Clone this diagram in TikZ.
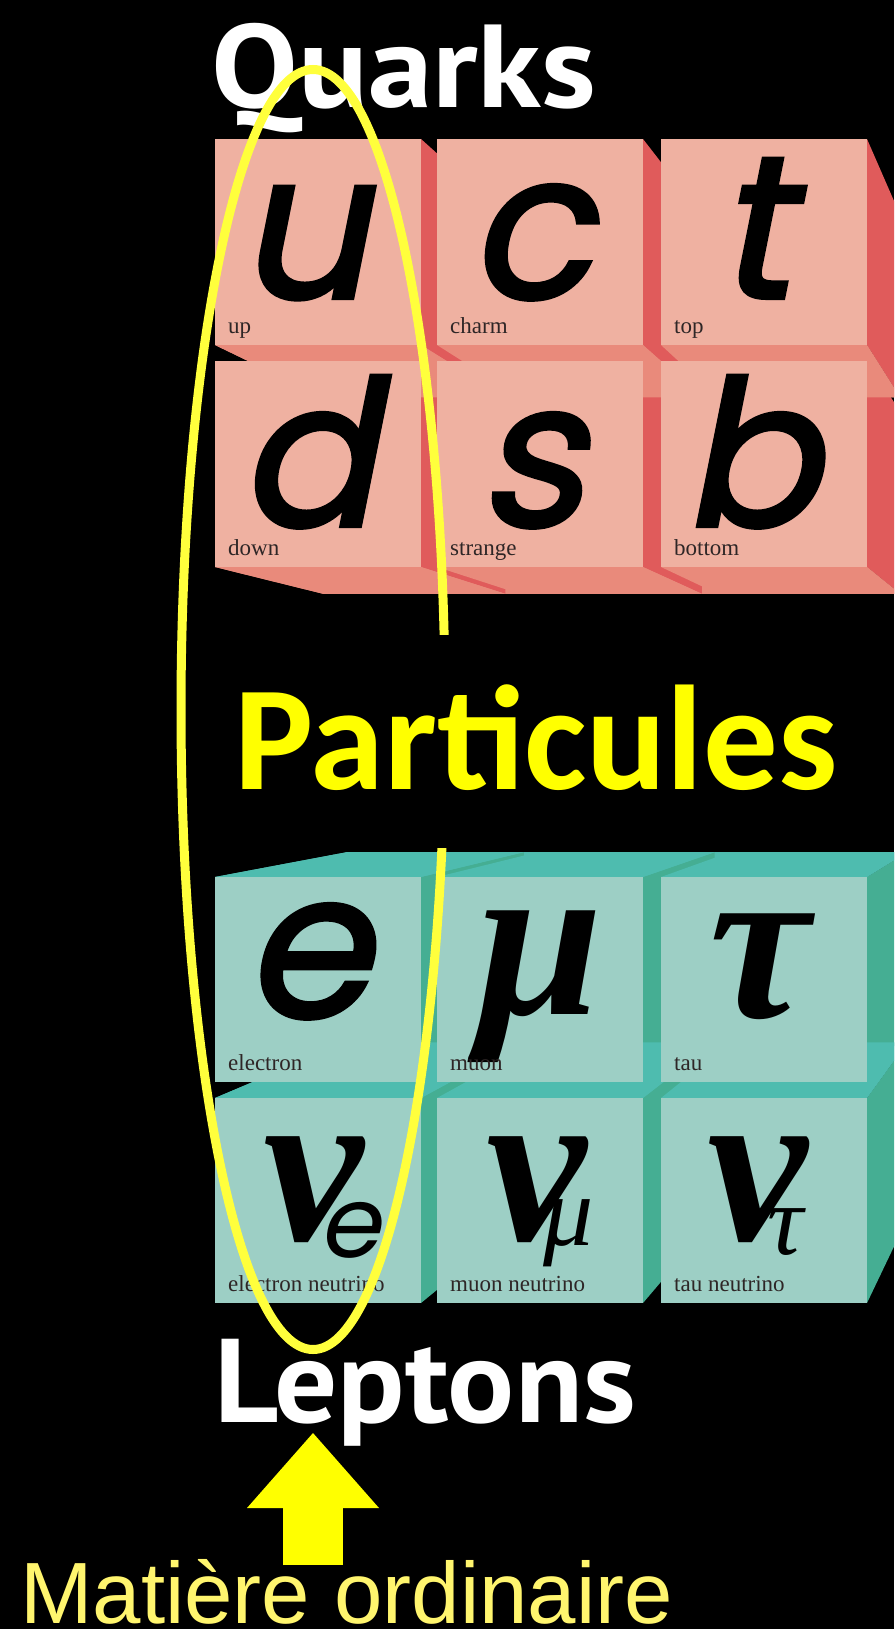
\documentclass[tikz,border=0pt]{standalone}
\usepackage{fontspec}
\usetikzlibrary{calc,arrows.meta,positioning}
\newfontfamily\headfont{PT Sans}[FakeStretch=1.05]
\newfontfamily\quarkhead{PT Sans}[FakeStretch=1.1]
\newfontfamily\flavfont{Poppins}[FakeSlant=0.2,FakeBold=2]
\newfontfamily\subfont{Poppins}[FakeSlant=0.2]
\newfontfamily\greekfont{Liberation Serif}
\newfontfamily\namefont{Liberation Serif}
\newfontfamily\callfont{Carlito}
\newfontfamily\notefont{Liberation Sans}
\newcommand{\fsz}[1]{\fontsize{#1}{#1}\selectfont}
\definecolor{quarkface}{HTML}{EFB1A1}
\definecolor{quarkside}{HTML}{E05B5B}
\definecolor{quarkbase}{HTML}{E98A7B}
\definecolor{leptonface}{HTML}{9DCFC5}
\definecolor{leptontop}{HTML}{4EBCAF}
\definecolor{leptonside}{HTML}{45AE93}
\definecolor{tagink}{HTML}{2E2626}
\definecolor{ringyellow}{HTML}{FFFF3C}
\definecolor{callyellow}{HTML}{FFFF00}
\definecolor{noteyellow}{HTML}{FFF56E}

\begin{document}
\begin{tikzpicture}[
  x=1pt, y=-1pt,
  quark/.style={anchor=north west, inner sep=0pt, minimum width=206pt, minimum height=206pt, fill=quarkface},
  lepton/.style={anchor=north west, inner sep=0pt, minimum width=206pt, minimum height=205pt, fill=leptonface},
  flavour/.style={inner sep=0pt, anchor=base, text depth=0pt, font=\flavfont\fsz{203}},
  greek/.style={inner sep=0pt, anchor=base, text depth=0pt, font=\greekfont\bfseries\itshape\fsz{226}},
  subsans/.style={inner sep=0pt, anchor=base west, font=\subfont\fsz{99}},
  subgreek/.style={inner sep=0pt, anchor=base west, font=\greekfont\itshape\fsz{100}},
  tag/.style={inner sep=0pt, anchor=base west, text=tagink, font=\namefont\fsz{23}},
  family/.style={inner sep=0pt, anchor=base west, text=white, font=\headfont\bfseries\fsz{119}},
  ring/.style={draw=ringyellow, line width=9pt},
  call/.style={anchor=base west, fill=black, text=callyellow, inner xsep=8pt, inner ysep=0pt,
    text height=154pt, text depth=59pt, font=\callfont\bfseries\fsz{149}},
  note/.style={inner sep=0pt, anchor=base west, text=noteyellow, font=\notefont\fsz{87}},
  uparrow/.style={draw=callyellow, line width=60pt, -{Triangle[width=132pt,length=75pt,line width=0pt]}}
]
\useasboundingbox (0,0) rectangle (894,1629);
\fill[black] (0,0) rectangle (894,1629);
\clip (0,0) rectangle (894,1629);

% vanishing points of the two blocks
\coordinate (qvp) at (1155,800);
\coordinate (lvp) at (1155,700);

% quark block: bottom strips, right faces, bottom faces
\foreach \cy in {139,361}{
  \coordinate (rl) at (215,\cy+206);
  \coordinate (rr) at (867,\cy+206);
  \fill[quarkbase] (rl) -- (rr) -- ($(rr)!0.115!(qvp)$) -- ($(rl)!0.115!(qvp)$) -- cycle;
}
\foreach \cx in {215,437,661}{
  \foreach \cy in {139,361}{
    \coordinate (tr) at (\cx+206,\cy);
    \coordinate (br) at (\cx+206,\cy+206);
    \fill[quarkside] (tr) -- (br) -- ($(br)!0.115!(qvp)$) -- ($(tr)!0.115!(qvp)$) -- cycle;
  }
}
\foreach \cx in {215,437,661}{
  \foreach \cy in {139,361}{
    \coordinate (bl) at (\cx,\cy+206);
    \coordinate (br) at (\cx+206,\cy+206);
    \fill[quarkbase] (bl) -- (br) -- ($(br)!0.115!(qvp)$) -- ($(bl)!0.115!(qvp)$) -- cycle;
  }
}

% lepton block: top strips, right faces, top faces
\foreach \cy in {877,1098}{
  \coordinate (rl) at (215,\cy);
  \coordinate (rr) at (867,\cy);
  \fill[leptontop] (rl) -- (rr) -- ($(rr)!0.14!(lvp)$) -- ($(rl)!0.14!(lvp)$) -- cycle;
}
\foreach \cx in {215,437,661}{
  \foreach \cy in {877,1098}{
    \coordinate (tr) at (\cx+206,\cy);
    \coordinate (br) at (\cx+206,\cy+205);
    \fill[leptonside] (tr) -- (br) -- ($(br)!0.14!(lvp)$) -- ($(tr)!0.14!(lvp)$) -- cycle;
  }
}
\foreach \cx in {215,437,661}{
  \foreach \cy in {877,1098}{
    \coordinate (tl) at (\cx,\cy);
    \coordinate (tr) at (\cx+206,\cy);
    \fill[leptontop] (tl) -- (tr) -- ($(tr)!0.14!(lvp)$) -- ($(tl)!0.14!(lvp)$) -- cycle;
  }
}

% front faces
\foreach \name/\cx/\cy in {up/215/139, charm/437/139, top/661/139,
                           down/215/361, strange/437/361, bottom/661/361}
  \node[quark] (\name) at (\cx,\cy) {};
\foreach \name/\cx/\cy in {electron/215/877, muon/437/877, tau/661/877,
                           enu/215/1098, munu/437/1098, taunu/661/1098}
  \node[lepton] (\name) at (\cx,\cy) {};

% symbols
\node[flavour] (u-sym) at (303,298) {u};
\node[flavour] (c-sym) at (530,298) {c};
\node[flavour] (t-sym) at (753,298) {t};
\node[flavour] (d-sym) at (307,526) {d};
\node[flavour] (s-sym) at (531,526) {s};
\node[flavour] (b-sym) at (751,526) {b};
\node[flavour] (e-sym) at (307,1017) {e};
\node[greek] (mu-sym) at (540,1014) {μ};
\node[greek] (tau-sym) at (760,1017) {τ};
\node[greek] (enu-sym) at (314,1240) {ν};
\node[greek] (munu-sym) at (537,1240) {ν};
\node[greek] (taunu-sym) at (758,1240) {ν};
\node[subsans] (enu-sub) at (318,1257) {e};
\node[subgreek] (munu-sub) at (543,1245) {μ};
\node[subgreek] (taunu-sub) at (767,1254) {τ};

% names
\foreach \name/\txt in {up/up, charm/charm, top/top, down/down, strange/strange, bottom/bottom,
                        electron/electron, muon/muon, tau/tau, enu/electron neutrino,
                        munu/muon neutrino, taunu/tau neutrino}
  \node[tag] (\name-tag) at ($(\name.south west)+(13,-12)$) {\txt};

\node[family, font=\quarkhead\bfseries\fsz{118}] (quarks) at (211,108) {Quarks};
\node[family] (leptons) at (214,1422) {Leptons};

\draw[ring] (313,709.5) ellipse [x radius=132pt, y radius=640pt];

\node[call] (particules) at (226,789) {Particules};

\node[note] (matiere) at (20,1623) {Matière ordinaire};
\coordinate (foot) at (313,1565);
\coordinate (tip) at (313,1433);
\draw[uparrow] (foot) -- (tip);
\end{tikzpicture}
\end{document}
